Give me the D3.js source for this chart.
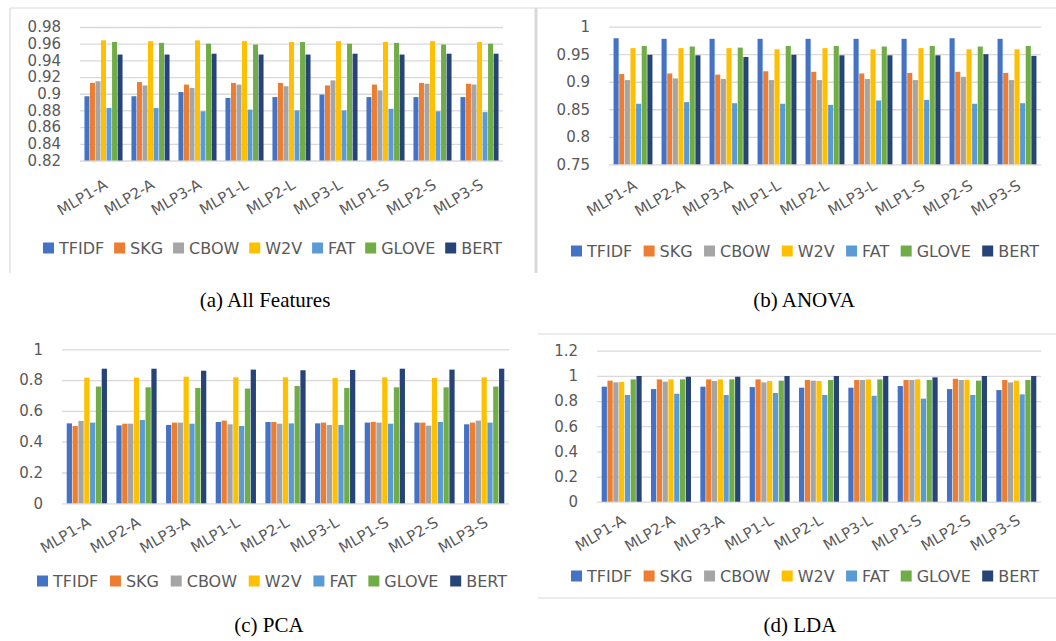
<!DOCTYPE html>
<html>
<head>
<meta charset="utf-8">
<script src="https://cdn.jsdelivr.net/npm/d3@7"></script>
<style>
  body { margin: 0; background: #fff; }
  svg { display: block; }
</style>
</head>
<body>
<svg id="chart"></svg>
<script>
let width = 1056
let height = 641

let categories = ['MLP1-A', 'MLP2-A', 'MLP3-A', 'MLP1-L', 'MLP2-L', 'MLP3-L', 'MLP1-S', 'MLP2-S', 'MLP3-S']
let seriesNames = ['TFIDF', 'SKG', 'CBOW', 'W2V', 'FAT', 'GLOVE', 'BERT']
let seriesColors = ['#4472C4', '#ED7D31', '#A5A5A5', '#FFC000', '#5B9BD5', '#70AD47', '#264478']

// one row per series, one value per category
let allFeatures = [
  [0.897, 0.897, 0.902, 0.895, 0.896, 0.899, 0.896, 0.896, 0.896],
  [0.913, 0.914, 0.911, 0.913, 0.913, 0.910, 0.911, 0.913, 0.912],
  [0.915, 0.910, 0.907, 0.911, 0.909, 0.916, 0.904, 0.912, 0.911],
  [0.964, 0.963, 0.964, 0.963, 0.962, 0.963, 0.962, 0.963, 0.962],
  [0.883, 0.883, 0.879, 0.881, 0.880, 0.880, 0.882, 0.879, 0.878],
  [0.962, 0.961, 0.960, 0.959, 0.962, 0.960, 0.961, 0.959, 0.960],
  [0.947, 0.947, 0.948, 0.947, 0.947, 0.948, 0.947, 0.948, 0.948]
]
let anova = [
  [0.979, 0.978, 0.978, 0.978, 0.978, 0.978, 0.978, 0.979, 0.978],
  [0.914, 0.915, 0.913, 0.919, 0.918, 0.915, 0.916, 0.918, 0.916],
  [0.903, 0.906, 0.905, 0.903, 0.903, 0.905, 0.903, 0.909, 0.903],
  [0.961, 0.961, 0.961, 0.959, 0.961, 0.959, 0.961, 0.959, 0.959],
  [0.860, 0.863, 0.861, 0.860, 0.858, 0.866, 0.867, 0.860, 0.861],
  [0.965, 0.964, 0.962, 0.965, 0.965, 0.964, 0.965, 0.964, 0.965],
  [0.949, 0.948, 0.945, 0.949, 0.948, 0.948, 0.948, 0.950, 0.947]
]
let pca = [
  [0.519, 0.506, 0.509, 0.528, 0.528, 0.519, 0.524, 0.524, 0.513],
  [0.502, 0.517, 0.524, 0.537, 0.528, 0.524, 0.528, 0.524, 0.524],
  [0.535, 0.517, 0.524, 0.513, 0.517, 0.509, 0.524, 0.504, 0.537],
  [0.816, 0.816, 0.822, 0.818, 0.818, 0.814, 0.818, 0.814, 0.818],
  [0.524, 0.541, 0.517, 0.502, 0.519, 0.509, 0.517, 0.528, 0.524],
  [0.758, 0.753, 0.749, 0.745, 0.762, 0.749, 0.753, 0.753, 0.758],
  [0.874, 0.874, 0.861, 0.868, 0.864, 0.866, 0.874, 0.868, 0.874]
]
let lda = [
  [0.914, 0.895, 0.914, 0.911, 0.906, 0.906, 0.919, 0.895, 0.887],
  [0.962, 0.972, 0.972, 0.972, 0.967, 0.967, 0.967, 0.977, 0.967],
  [0.948, 0.954, 0.959, 0.948, 0.962, 0.967, 0.967, 0.967, 0.948],
  [0.951, 0.972, 0.972, 0.959, 0.959, 0.972, 0.972, 0.967, 0.962],
  [0.848, 0.858, 0.848, 0.864, 0.848, 0.842, 0.819, 0.848, 0.853],
  [0.972, 0.972, 0.972, 0.962, 0.967, 0.972, 0.967, 0.962, 0.967],
  [0.999, 0.993, 0.993, 0.999, 0.999, 0.999, 0.988, 0.999, 0.999]
]

let ticksA = [0.82, 0.84, 0.86, 0.88, 0.9, 0.92, 0.94, 0.96, 0.98]
let ticksB = [0.75, 0.8, 0.85, 0.9, 0.95, 1]
let ticksC = [0, 0.2, 0.4, 0.6, 0.8, 1]
let ticksD = [0, 0.2, 0.4, 0.6, 0.8, 1, 1.2]

let captions = ['(a) All Features', '(b) ANOVA', '(c) PCA', '(d) LDA']

let panels = [
  { data: allFeatures, ticks: ticksA, caption: captions[0], x0: 80, x1: 503, yTop: 27, yBottom: 160.5,
    labelDy: 27, legendY: 248, legendX0: 43, legendX1: 502, capX: 265, capY: 307 },
  { data: anova, ticks: ticksB, caption: captions[1], x0: 609, x1: 1041, yTop: 26.7, yBottom: 164.3,
    labelDy: 24, legendY: 251, legendX0: 571, legendX1: 1039, capX: 804, capY: 307 },
  { data: pca, ticks: ticksC, caption: captions[2], x0: 62, x1: 509, yTop: 349.3, yBottom: 503.3,
    labelDy: 22, legendY: 581, legendX0: 37, legendX1: 507, capX: 269, capY: 632 },
  { data: lda, ticks: ticksD, caption: captions[3], x0: 597, x1: 1041, yTop: 350.7, yBottom: 501.7,
    labelDy: 21.5, legendY: 576, legendX0: 571, legendX1: 1039, capX: 800, capY: 632 }
]

let textColor = '#595959'
let gridColor = '#d9d9d9'
let font = '"DejaVu Sans", sans-serif'

let svg = d3.select('#chart')
  .attr('width', width)
  .attr('height', height)

// panel frames (screenshot borders)
let frames = svg.append('g').attr('fill', 'none').attr('stroke', gridColor)
frames.append('line').attr('x1', 10).attr('x2', 10).attr('y1', 8).attr('y2', 273).attr('stroke-width', 1.2)
frames.append('line').attr('x1', 10).attr('x2', width).attr('y1', 8).attr('y2', 8).attr('stroke-width', 1.2)
frames.append('line').attr('x1', 536).attr('x2', 536).attr('y1', 8).attr('y2', 273).attr('stroke-width', 3)
frames.append('line').attr('x1', 538).attr('x2', width).attr('y1', 334).attr('y2', 334).attr('stroke-width', 1.2)
frames.append('line').attr('x1', 538).attr('x2', width).attr('y1', 598).attr('y2', 598).attr('stroke-width', 1.2)

let drawPanel = (p) => {
  let g = svg.append('g')

  let yScale = d3.scaleLinear()
    .domain([p.ticks[0], p.ticks[p.ticks.length - 1]])
    .range([p.yBottom, p.yTop])

  let xScale = d3.scaleBand()
    .domain(categories)
    .range([p.x0, p.x1])
    .paddingInner(0.19)
    .paddingOuter(0.095)

  let innerScale = d3.scaleBand()
    .domain(seriesNames)
    .range([0, xScale.bandwidth()])
    .paddingInner(0.1)

  // gridlines + y labels
  let yAxis = d3.axisLeft(yScale)
    .tickValues(p.ticks)
    .tickSize(-(p.x1 - p.x0))
    .tickPadding(19)
    .tickFormat(d => String(+d.toFixed(2)))

  let yg = g.append('g')
    .attr('transform', 'translate(' + p.x0 + ',0)')
    .call(yAxis)
  yg.select('.domain').remove()
  yg.selectAll('line').attr('stroke', gridColor).attr('stroke-width', 1.3)
  yg.selectAll('text')
    .attr('fill', textColor)
    .style('font-family', font)
    .style('font-size', '15px')

  // bars
  seriesNames.forEach((name, si) => {
    g.append('g')
      .attr('fill', seriesColors[si])
      .selectAll('rect')
      .data(p.data[si])
      .enter()
      .append('rect')
      .attr('x', (v, i) => xScale(categories[i]) + innerScale(name))
      .attr('width', innerScale.bandwidth())
      .attr('y', v => yScale(v))
      .attr('height', v => p.yBottom - yScale(v))
  })

  // category labels
  let xAxis = d3.axisBottom(xScale).tickSize(0).tickPadding(0)
  let xg = g.append('g')
    .attr('transform', 'translate(0,' + p.yBottom + ')')
    .call(xAxis)
  xg.select('.domain').remove()
  xg.selectAll('text')
    .attr('fill', textColor)
    .style('font-family', font)
    .style('font-size', '15px')
    .attr('text-anchor', 'end')
    .attr('y', 0)
    .attr('dy', 0)
    .attr('transform', 'translate(5,' + p.labelDy + ') rotate(-31)')

  // legend, spread between legendX0 and legendX1
  let lg = g.append('g')
  let items = seriesNames.map((name, si) => {
    let item = lg.append('g')
    item.append('rect')
      .attr('width', 11).attr('height', 11)
      .attr('y', -5.5)
      .attr('fill', seriesColors[si])
    let t = item.append('text')
      .attr('x', 16)
      .attr('dy', '0.36em')
      .attr('fill', textColor)
      .style('font-family', font)
      .style('font-size', '16px')
      .text(name)
    return { item: item, w: 16 + t.node().getComputedTextLength() }
  })
  let total = d3.sum(items, d => d.w)
  let gap = (p.legendX1 - p.legendX0 - total) / (items.length - 1)
  let cx = p.legendX0
  items.forEach(d => {
    d.item.attr('transform', 'translate(' + cx + ',' + p.legendY + ')')
    cx += d.w + gap
  })

  // caption
  g.append('text')
    .attr('x', p.capX)
    .attr('y', p.capY)
    .attr('text-anchor', 'middle')
    .attr('fill', '#000')
    .style('font-family', '"Liberation Serif", serif')
    .style('font-size', '21px')
    .text(p.caption)
}

panels.forEach(drawPanel)
</script>
</body>
</html>
